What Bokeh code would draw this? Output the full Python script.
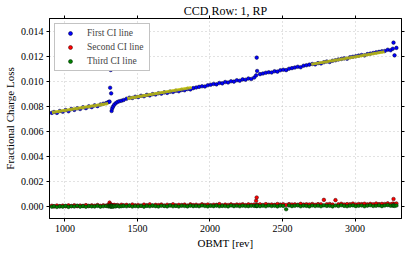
from bokeh.plotting import figure
from bokeh.models import (Range1d, LinearAxis, FixedTicker, PrintfTickFormatter,
                          Legend, LegendItem)
from bokeh.embed import file_html
from bokeh.resources import INLINE

# ---------------- data ----------------
obmt = [910, 925, 945, 965, 985, 1005, 1025, 1045, 1065, 1085, 1105, 1125, 1145, 1165,
        1185, 1205, 1225, 1245, 1265, 1285,
        1300, 1308, 1312, 1316, 1319, 1322, 1326, 1332, 1340, 1350, 1362, 1375, 1390, 1405,
        1425, 1445, 1465, 1485, 1505, 1525, 1545, 1565, 1585, 1605, 1625, 1645, 1665, 1685,
        1705, 1725, 1745, 1765, 1785, 1805, 1825, 1845, 1865, 1885, 1905, 1925, 1945, 1965,
        1985, 2005, 2025, 2045, 2065, 2085, 2105, 2125, 2145, 2165, 2185, 2205, 2225, 2245,
        2265, 2285, 2305,
        2318, 2322, 2325,
        2345, 2365, 2385, 2405, 2425, 2445, 2465, 2485, 2505, 2525, 2545, 2565, 2585, 2605,
        2625, 2645, 2665, 2685, 2705, 2725, 2745, 2765, 2785, 2805, 2825, 2845, 2865, 2885,
        2905, 2925, 2945, 2965, 2985, 3005, 3025, 3045, 3065, 3085, 3105, 3125, 3145, 3165,
        3185, 3205, 3225, 3245,
        3260, 3265, 3272, 3285]

first_ci = [0.00745, 0.00752, 0.00745, 0.00760, 0.00754, 0.00768, 0.00758, 0.00776, 0.00769,
            0.00782, 0.00776, 0.00790, 0.00783, 0.00797, 0.00791, 0.00805, 0.00799, 0.00812,
            0.00818, 0.00824,
            0.00832, 0.00835, 0.00946, 0.01088, 0.00901, 0.00760, 0.00780, 0.00795, 0.00810,
            0.00822, 0.00832, 0.00838, 0.00842, 0.00848,
            0.00858, 0.00866, 0.00864, 0.00874, 0.00871, 0.00882, 0.00878, 0.00889, 0.00885,
            0.00895, 0.00892, 0.00902, 0.00899, 0.00909, 0.00905, 0.00915, 0.00912, 0.00922,
            0.00918, 0.00928, 0.00926, 0.00936, 0.00933, 0.00943, 0.00948, 0.00953, 0.00958,
            0.00956, 0.00966, 0.00970, 0.00976, 0.00973, 0.00984, 0.00981, 0.00992, 0.00988,
            0.00998, 0.00995, 0.01006, 0.01002, 0.01013, 0.01010, 0.01020, 0.01016, 0.01028,
            0.01045, 0.01187, 0.01080,
            0.01055, 0.01060, 0.01066, 0.01070, 0.01068, 0.01078, 0.01075, 0.01086, 0.01090,
            0.01087, 0.01098, 0.01103, 0.01108, 0.01114, 0.01110, 0.01122, 0.01126, 0.01131,
            0.01136, 0.01133, 0.01143, 0.01140, 0.01150, 0.01156, 0.01152, 0.01162, 0.01166,
            0.01172, 0.01176, 0.01181, 0.01178, 0.01190, 0.01194, 0.01198, 0.01203, 0.01208,
            0.01205, 0.01215, 0.01219, 0.01224, 0.01229, 0.01233, 0.01238, 0.01240, 0.01250,
            0.01246,
            0.01258, 0.01307, 0.01205, 0.01265]

second_ci = [0.2e-4, -0.3e-4, 0.4e-4, -0.1e-4, 0.3e-4, -0.2e-4, 0.5e-4, 0.0, 0.6e-4, -0.1e-4,
             0.4e-4, 0.1e-4, 0.7e-4, 0.0, 0.5e-4, 0.2e-4, 0.8e-4, 0.1e-4, 0.6e-4, 0.3e-4,
             0.9e-4, 2.7e-4, 1.5e-4, 0.4e-4, 0.8e-4, 0.2e-4, 0.7e-4, 0.3e-4, 0.9e-4, 0.4e-4,
             0.8e-4, 0.2e-4, 1.0e-4, 0.5e-4,
             0.9e-4, 0.3e-4, 1.2e-4, 0.5e-4, 0.8e-4, 0.2e-4, 1.1e-4, 0.6e-4, 1.3e-4, 0.4e-4,
             0.9e-4, 0.7e-4, 1.2e-4, 0.3e-4, 1.0e-4, 0.6e-4, 1.4e-4, 0.5e-4, 0.9e-4, 0.8e-4,
             1.1e-4, 0.4e-4, 1.3e-4, 0.7e-4, 1.0e-4, 0.5e-4, 1.4e-4, 0.8e-4, 1.2e-4, 0.6e-4,
             1.0e-4, 0.9e-4, 1.5e-4, 0.6e-4, 1.1e-4, 0.8e-4, 1.3e-4, 0.7e-4, 1.2e-4, 1.0e-4,
             1.4e-4, 0.7e-4, 1.3e-4, 0.9e-4, 1.2e-4,
             4.2e-4, 6.8e-4, 1.1e-4,
             1.3e-4, 0.8e-4, 1.5e-4, 1.0e-4, 1.2e-4, 0.9e-4, 1.6e-4, 1.1e-4, 1.4e-4, 0.8e-4,
             1.5e-4, 1.2e-4, 1.3e-4, 1.0e-4, 1.7e-4, 1.1e-4, 1.4e-4, 1.2e-4, 1.6e-4, 0.9e-4,
             1.5e-4, 1.3e-4, 4.9e-4, 1.4e-4, 1.6e-4, 1.1e-4, 4.7e-4, 1.3e-4, 1.8e-4, 1.2e-4,
             1.5e-4, 1.4e-4, 1.9e-4, 1.2e-4, 1.6e-4, 1.5e-4, 1.8e-4, 1.3e-4, 1.7e-4, 1.4e-4,
             2.0e-4, 1.5e-4, 1.7e-4, 1.6e-4, 2.1e-4, 1.4e-4,
             1.9e-4, 5.6e-4, 1.6e-4, 2.0e-4]

third_ci = [-0.6e-4, -0.2e-4, -0.8e-4, -0.3e-4, -0.5e-4, 0.1e-4, -0.7e-4, -0.2e-4, -0.4e-4,
            0.2e-4, -0.5e-4, -0.1e-4, -0.6e-4, 0.0, -0.3e-4, -0.4e-4, 0.1e-4, -0.5e-4,
            -0.2e-4, 0.0,
            -0.3e-4, 0.2e-4, -0.4e-4, -0.1e-4, -0.5e-4, 0.1e-4, -0.2e-4, -0.6e-4, 0.0,
            -0.3e-4, 0.2e-4, -0.4e-4, -0.1e-4, 0.1e-4,
            -0.2e-4, 0.3e-4, -0.4e-4, 0.0, -0.3e-4, 0.2e-4, -0.5e-4, 0.1e-4, -0.2e-4, 0.3e-4,
            -0.1e-4, -0.4e-4, 0.2e-4, 0.0, -0.3e-4, 0.4e-4, -0.2e-4, 0.1e-4, -0.4e-4, 0.2e-4,
            0.0, -0.3e-4, 0.3e-4, -0.1e-4, 0.1e-4, -0.2e-4, 0.4e-4, 0.0, -0.3e-4, 0.2e-4,
            -0.1e-4, 0.3e-4, -0.2e-4, 0.1e-4, 0.0, -0.3e-4, 0.4e-4, -0.1e-4, 0.2e-4, -0.2e-4,
            0.3e-4, 0.0, -0.1e-4, 0.2e-4, 0.1e-4,
            0.2e-4, -0.1e-4, 0.3e-4,
            -0.1e-4, 0.3e-4, -0.2e-4, 0.4e-4, 0.0, 0.2e-4, -0.3e-4, 0.3e-4, 0.1e-4, -2.6e-4,
            0.4e-4, -0.1e-4, 0.2e-4, 0.5e-4, -0.2e-4, 0.3e-4, 0.1e-4, -0.3e-4, 0.4e-4, 0.0,
            0.3e-4, -0.2e-4, 0.5e-4, 0.1e-4, 0.2e-4, -0.3e-4, 0.4e-4, 0.0, 0.6e-4, 0.1e-4,
            -0.2e-4, 0.3e-4, 0.5e-4, -0.1e-4, 0.2e-4, 0.4e-4, -0.2e-4, 0.3e-4, 0.6e-4, 0.0,
            0.2e-4, 0.5e-4, -0.1e-4, 0.4e-4, 0.7e-4, 0.2e-4,
            0.3e-4, 0.6e-4, 0.1e-4, 0.4e-4]

# linear fits of the first CI line (segments)
fit_x = [[910, 1298], [1430, 1874], [2698, 3203]]
fit_y = [[0.00748, 0.00820], [0.00860, 0.00948], [0.01133, 0.01234]]

x_ticks = [1000, 1500, 2000, 2500, 3000]
y_ticks = [0.000, 0.002, 0.004, 0.006, 0.008, 0.010, 0.012, 0.014]
title_text = "CCD Row: 1, RP"
x_label = "OBMT [rev]"
y_label = "Fractional Charge Loss"
series_names = ["First CI line", "Second CI line", "Third CI line"]

FONT = "Liberation Serif"

p = figure(width=407, height=251, output_backend="svg", toolbar_location=None,
           x_range=Range1d(894, 3320), y_range=Range1d(-0.001, 0.015),
           min_border_left=42, min_border_right=6, min_border_top=17, min_border_bottom=33)
p.background_fill_color = "white"
p.border_fill_color = "white"
p.outline_line_color = "black"
p.outline_line_width = 1

xt = FixedTicker(ticks=x_ticks, minor_ticks=[])
yt = FixedTicker(ticks=y_ticks, minor_ticks=[])

p.xaxis.ticker = xt
p.yaxis.ticker = yt
p.yaxis.formatter = PrintfTickFormatter(format="%.3f")
p.xaxis.axis_label = x_label
p.yaxis.axis_label = y_label

for ax in [p.xaxis[0], p.yaxis[0]]:
    ax.major_tick_in = 0
    ax.major_tick_out = 3
    ax.minor_tick_in = 0
    ax.minor_tick_out = 0
    ax.axis_line_color = "black"
    ax.major_tick_line_color = "black"
    ax.major_label_text_font = FONT
    ax.major_label_text_font_size = "10px"
    ax.major_label_text_color = "black"
    ax.major_label_standoff = 3
    ax.axis_label_text_font = FONT
    ax.axis_label_text_font_size = "11px"
    ax.axis_label_text_font_style = "normal"
    ax.axis_label_text_color = "black"
    ax.axis_label_standoff = 2

# top axis carries the title as its label; right axis only ticks
top_ax = LinearAxis(ticker=xt, major_tick_in=0, major_tick_out=3, minor_tick_in=0,
                    minor_tick_out=0, major_label_text_font_size="0px",
                    major_label_text_color=None, major_label_standoff=0,
                    axis_line_color="black", axis_label=title_text,
                    axis_label_standoff=-2, axis_label_text_font=FONT,
                    axis_label_text_font_size="12px", axis_label_text_font_style="normal",
                    axis_label_text_color="black", axis_label_text_baseline="bottom")
p.add_layout(top_ax, "above")
right_ax = LinearAxis(ticker=yt, major_tick_in=0, major_tick_out=3, minor_tick_in=0,
                      minor_tick_out=0, major_label_text_font_size="0px",
                      major_label_text_color=None, major_label_standoff=0,
                      axis_line_color="black")
p.add_layout(right_ax, "right")

p.xgrid.ticker = xt
p.ygrid.ticker = yt
for g in [p.xgrid[0], p.ygrid[0]]:
    g.grid_line_color = "#c4c4c4"
    g.grid_line_dash = "1 3"
    g.grid_line_width = 1

r1 = p.scatter(obmt, first_ci, size=3.6, fill_color="#0000ff", line_color="#000033",
               line_width=0.5)
p.multi_line(fit_x, fit_y, line_color="#c4c400", line_width=3, line_alpha=0.85)
r2 = p.scatter(obmt, second_ci, size=3.6, fill_color="#ff0000", line_color="#330000",
               line_width=0.5)
r3 = p.scatter(obmt, third_ci, size=3.6, fill_color="#008000", line_color="#002200",
               line_width=0.5)

legend = Legend(items=[LegendItem(label=series_names[0], renderers=[r1]),
                       LegendItem(label=series_names[1], renderers=[r2]),
                       LegendItem(label=series_names[2], renderers=[r3])],
                location="top_left", margin=5, padding=4, spacing=4,
                glyph_width=22, glyph_height=10, label_height=10, label_width=58,
                label_standoff=6, label_text_font=FONT, label_text_font_size="9.5px",
                border_line_color="#888888", border_line_width=1,
                background_fill_color="white", background_fill_alpha=1)
p.add_layout(legend)

open("out.html", "w").write(file_html(p, INLINE))
